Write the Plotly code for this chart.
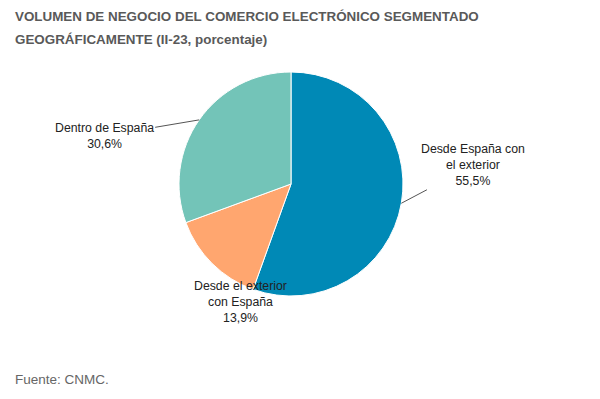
import math
import plotly.graph_objects as go

labels = ["Desde España con el exterior", "Desde el exterior con España", "Dentro de España"]
label_text = ["Desde España con<br>el exterior", "Desde el exterior<br>con España", "Dentro de España"]
values = [55.5, 13.9, 30.6]
colors = ["#0089b6", "#ffa66f", "#73c4b8"]
value_text = ["55,5%", "13,9%", "30,6%"]

W, H = 600, 399
cx, cy, r = 291, 184, 112  # pie center/radius in pixels

fig = go.Figure(go.Pie(
    labels=labels, values=values, sort=False, direction="clockwise", rotation=0,
    marker=dict(colors=colors, line=dict(color="white", width=1)),
    textinfo="none", hoverinfo="label+percent", showlegend=False,
    domain=dict(x=[(cx - r) / W, (cx + r) / W], y=[1 - (cy + r) / H, 1 - (cy - r) / H]),
))

FONT = "Liberation Sans, Arial"
offsets = [(72, -38, True), (0, 0, False), (-95, 16, True)]
total = sum(values)
cum = 0
annotations = []
for i, v in enumerate(values):
    mid = (cum + v / 2) / total * 2 * math.pi
    cum += v
    px = cx + r * math.sin(mid)
    py = cy - r * math.cos(mid)
    ax, ay, arrow = offsets[i]
    txt = label_text[i] + "<br>" + value_text[i]
    if arrow:
        annotations.append(dict(x=px / W, y=1 - py / H, xref="paper", yref="paper",
                                text=txt, showarrow=True, ax=ax, ay=ay, arrowhead=0,
                                arrowwidth=1, arrowcolor="#555555", standoff=0,
                                font=dict(family=FONT, size=12.3, color="#222222"),
                                align="center"))
    else:
        annotations.append(dict(x=240 / W, y=1 - 302 / H, xref="paper", yref="paper",
                                text=txt, showarrow=False, xanchor="center", yanchor="middle",
                                font=dict(family=FONT, size=12.3, color="#222222"),
                                align="center"))

title_lines = ["VOLUMEN DE NEGOCIO DEL COMERCIO ELECTRÓNICO SEGMENTADO",
               "GEOGRÁFICAMENTE (II-23, porcentaje)"]
for j, line in enumerate(title_lines):
    annotations.append(dict(x=13 / W, y=1 - (17 + 22 * j) / H, xref="paper", yref="paper",
                            text="<b>" + line + "</b>", showarrow=False, xanchor="left", yanchor="middle",
                            font=dict(family=FONT, size=13.4, color="#595959")))
annotations.append(dict(x=13 / W, y=1 - 379 / H, xref="paper", yref="paper",
                        text="Fuente: CNMC.", showarrow=False, xanchor="left", yanchor="middle",
                        font=dict(family=FONT, size=13.5, color="#666666")))

fig.update_layout(width=W, height=H, margin=dict(l=0, r=0, t=0, b=0),
                  paper_bgcolor="white", plot_bgcolor="white", annotations=annotations)
fig.write_html("out.html", config={"displayModeBar": False},
               post_script="document.body.style.margin='0';")
